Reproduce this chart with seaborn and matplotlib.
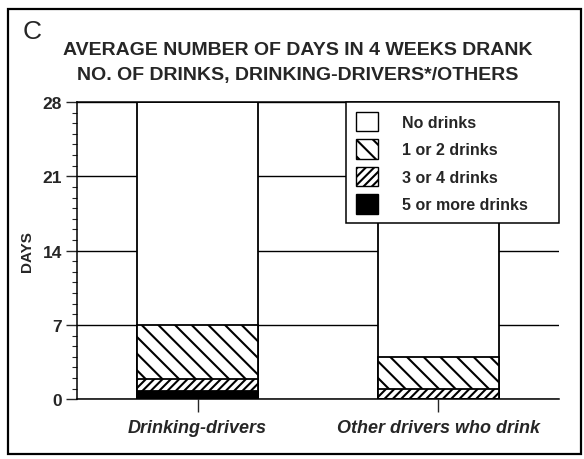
import pandas as pd
import matplotlib
matplotlib.use("Agg")
import matplotlib.pyplot as plt
import seaborn as sns
from matplotlib.patches import Patch, Rectangle
from matplotlib.ticker import MultipleLocator

# values (days in 4 weeks)
groups = ["Drinking-drivers", "Other drivers who drink"]
no_drinks = [21.0, 24.0]
one_two = [5.1, 3.0]
three_four = [1.1, 1.0]
five_plus = [0.8, 0.0]
legend_labels = ["No drinks", "1 or 2 drinks", "3 or 4 drinks", "5 or more drinks"]
y_ticks = [0, 7, 14, 21, 28]

df = pd.DataFrame({"group": groups, "none": no_drinks, "one_two": one_two,
                   "three_four": three_four, "five": five_plus})
# cumulative heights so bars can be overlaid from tallest to shortest
df["c_five"] = df["five"]
df["c_three"] = df["c_five"] + df["three_four"]
df["c_one"] = df["c_three"] + df["one_two"]
df["c_all"] = df["c_one"] + df["none"]

sns.set_theme(style="white")
plt.rcParams["font.family"] = ["Liberation Sans", "DejaVu Sans"]
plt.rcParams["hatch.linewidth"] = 1.5
plt.rcParams["hatch.color"] = "black"

fig = plt.figure(figsize=(5.84, 4.6), dpi=100)
ax = fig.add_axes([0.132, 0.130, 0.825, 0.646])

layers = [("c_all", "white", ""), ("c_one", "white", "\\\\"),
          ("c_three", "white", "////"), ("c_five", "black", "")]
for col, fc, hatch in layers:
    sns.barplot(data=df, x="group", y=col, color=fc, edgecolor="black",
                linewidth=1.3, hatch=hatch, width=0.5, errorbar=None,
                saturation=1, ax=ax)

ax.set_ylim(0, 28)
ax.set_xlim(-0.5, 1.5)
ax.set_yticks(y_ticks)
ax.yaxis.set_minor_locator(MultipleLocator(1))
ax.set_axisbelow(True)
ax.yaxis.grid(True, color="black", linewidth=1.0)
ax.tick_params(axis="y", which="major", direction="out", length=8, width=1,
               left=True, labelsize=12.5, pad=3)
ax.tick_params(axis="y", which="minor", direction="out", length=3.5, width=0.8, left=True)
ax.tick_params(axis="x", direction="out", length=9.5, width=1, bottom=True,
               labelsize=13, pad=5)
for lab in ax.get_yticklabels():
    lab.set_fontweight("bold")
for lab in ax.get_xticklabels():
    lab.set_fontweight("bold")
    lab.set_fontstyle("italic")
ax.set_xlabel("")
ax.set_ylabel("DAYS", fontsize=11, fontweight="bold", labelpad=6)
ax.spines["right"].set_visible(False)
for s in ax.spines.values():
    s.set_color("black")
    s.set_linewidth(1.1)

handles = [Patch(facecolor="white", edgecolor="black", label=legend_labels[0]),
           Patch(facecolor="white", edgecolor="black", hatch="\\\\", label=legend_labels[1]),
           Patch(facecolor="white", edgecolor="black", hatch="////", label=legend_labels[2]),
           Patch(facecolor="black", edgecolor="black", label=legend_labels[3])]
leg = ax.legend(handles=handles, loc="upper left", bbox_to_anchor=(0.558, 0.0, 0.442, 1.0),
                mode="expand", fancybox=False, edgecolor="black", framealpha=1,
                prop={"weight": "bold", "size": 11.5}, handlelength=1.4,
                handleheight=1.5, labelspacing=0.5, borderpad=0.6,
                handletextpad=1.5, borderaxespad=0)
leg.get_frame().set_linewidth(1.1)

fig.text(0.509, 0.891, "AVERAGE NUMBER OF DAYS IN 4 WEEKS DRANK", ha="center",
         va="center", fontsize=14, fontweight="bold")
fig.text(0.509, 0.835, "NO. OF DRINKS, DRINKING-DRIVERS*/OTHERS", ha="center",
         va="center", fontsize=14, fontweight="bold")
fig.text(0.038, 0.93, "C", ha="left", va="center", fontsize=19)

fig.add_artist(Rectangle((0.014, 0.011), 0.981, 0.967, transform=fig.transFigure,
                         fill=False, edgecolor="black", linewidth=1.6))

fig.savefig("out.png", dpi=100)
